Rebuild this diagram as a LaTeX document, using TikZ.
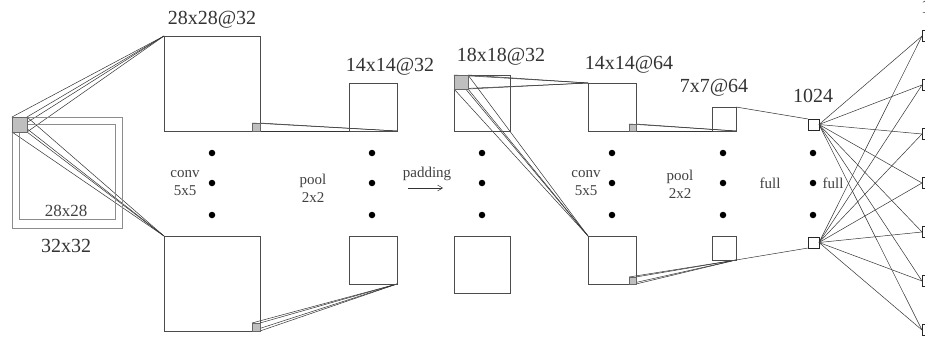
\documentclass[tikz,border=0pt]{standalone}
\usepackage{fontspec}
\setmainfont{Liberation Serif}
\usetikzlibrary{arrows.meta,backgrounds}
\begin{document}
\begin{tikzpicture}[x=1pt,y=-1pt,
  fmap/.style={draw=black!70, line width=0.7pt, inner sep=0pt, outer sep=0pt, anchor=north west},
  inbox/.style={draw=black!45, line width=0.8pt, inner sep=0pt, outer sep=0pt, anchor=north west},
  kern/.style={draw=black!60, fill=black!25, line width=0.6pt, inner sep=0pt, outer sep=0pt},
  link/.style={draw=black!80, line width=0.5pt},
  blob/.style={circle, fill=black, inner sep=0pt, minimum size=6.5pt},
  title/.style={font=\fontsize{20}{22}\selectfont, text=black!80, inner sep=0pt},
  lbl/.style={font=\fontsize{15}{18}\selectfont, text=black!75, align=center, inner sep=0pt},
  neuron/.style={draw=black!85, fill=white, line width=0.8pt, inner sep=0pt, outer sep=0pt, minimum size=11pt, anchor=north west},
]
\useasboundingbox (0,0) rectangle (925,337);

% input image with its 28x28 valid region
\node[inbox, minimum width=110pt, minimum height=111pt] (in32) at (12,117) {};
\node[inbox, minimum width=96pt, minimum height=95pt] (in28) at (19,124) {};
\node[kern, anchor=north west, minimum size=15pt] (k1) at (12,117) {};
\node[lbl, font=\fontsize{17}{20}\selectfont] (l28) at (66,211) {28x28};
\node[title] (l32) at (66,246) {32x32};

% first convolution maps
\node[fmap, minimum width=96pt, minimum height=95pt] (c1t) at (164,36) {};
\node[fmap, minimum width=96pt, minimum height=95pt] (c1b) at (164,236) {};
\node[kern, anchor=south east, minimum size=8pt] (s1t) at (c1t.south east) {};
\node[kern, anchor=south east, minimum size=8pt] (s1b) at (c1b.south east) {};
\node[title] (lc1) at (212,20) {28x28@32};

% first pooling maps
\node[fmap, minimum width=48pt, minimum height=48pt] (p1t) at (349,83) {};
\node[fmap, minimum width=48pt, minimum height=48pt] (p1b) at (349,236) {};
\node[title] (lp1) at (390,67) {14x14@32};

% padded maps
\node[fmap, minimum width=56pt, minimum height=56pt] (qt) at (454,75) {};
\node[fmap, minimum width=56pt, minimum height=57pt] (qb) at (454,236) {};
\node[kern, anchor=north west, minimum size=14pt] (k2) at (454,75) {};
\node[title] (lq) at (501,57) {18x18@32};

% second convolution maps
\node[fmap, minimum width=48pt, minimum height=48pt] (c2t) at (588,83) {};
\node[fmap, minimum width=48pt, minimum height=48pt] (c2b) at (588,236) {};
\node[kern, anchor=south east, minimum size=7pt] (s2t) at (c2t.south east) {};
\node[kern, anchor=south east, minimum size=7pt] (s2b) at (c2b.south east) {};
\node[title] (lc2) at (629,65) {14x14@64};

% second pooling maps
\node[fmap, minimum width=24pt, minimum height=24pt] (p2t) at (712,107) {};
\node[fmap, minimum width=24pt, minimum height=24pt] (p2b) at (712,236) {};
\node[title] (lp2) at (714,88) {7x7@64};

% fully connected layer
\node[neuron] (n1) at (808,119) {};
\node[neuron] (n2) at (808,237) {};
\node[title] (lfc) at (813,96) {1024};

% output units
\foreach \i/\yy in {1/36,2/85,3/134,4/183,5/232,6/281,7/330}{
  \node[neuron, anchor=west] (o\i) at (922,\yy) {};
}
\node[title, anchor=base west] (lout) at (921,14) {10};

% stacked-map dots
\foreach \xx/\nm in {212/a,372/b,482/c,612/d,723/e,813/f}{
  \foreach \yy/\k in {153/1,183/2,215/3}{
    \node[blob] (d\nm\k) at (\xx,\yy) {};
  }
}

% layer annotations
\node[lbl] (tc1) at (185,183) {conv\\5x5};
\node[lbl] (tp1) at (313,188) {pool\\2x2};
\node[lbl] (tpad) at (427,174) {padding};
\coordinate (pa) at (408,188);
\coordinate (pb) at (443,188);
\draw[link, -{Straight Barb[length=5pt,width=6pt]}] (pa) -- (pb);
\node[lbl] (tc2) at (586,183) {conv\\5x5};
\node[lbl] (tp2) at (680,184) {pool\\2x2};
\node[lbl] (tf1) at (770,183) {full};
\node[lbl] (tf2) at (833,183) {full};

% receptive-field lines, kept under the kernel squares
\begin{scope}[on background layer]
\foreach \c in {north west,north east,south west,south east}{
  \draw[link] (k1.\c) -- (c1t.north west);
  \draw[link] (k1.\c) -- (c1b.north west);
  \draw[link] (s1t.\c) -- (p1t.south east);
  \draw[link] (s1b.\c) -- (p1b.south east);
  \draw[link] (k2.\c) -- (c2t.north west);
  \draw[link] (k2.\c) -- (c2b.north west);
  \draw[link] (s2t.\c) -- (p2t.south east);
  \draw[link] (s2b.\c) -- (p2b.south east);
}
\end{scope}
\draw[link] (p2t.north east) -- (n1.north west);
\draw[link] (p2b.south east) -- (n2.south west);

% full connections to outputs
\foreach \i in {1,...,7}{
  \draw[link] (n1.east) -- (o\i.west);
  \draw[link] (n2.east) -- (o\i.west);
}
\end{tikzpicture}
\end{document}
